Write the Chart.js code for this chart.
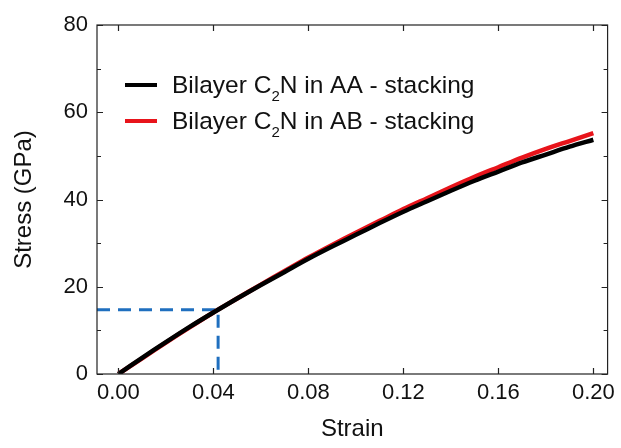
<!DOCTYPE html>
<html>
<head>
<meta charset="utf-8">
<script src="https://cdn.jsdelivr.net/npm/chart.js@4"></script>
<style>
  html, body { margin: 0; padding: 0; background: #fff; }
</style>
</head>
<body>
<canvas id="myChart" width="621" height="448"></canvas>
<script>
// strain values (x) shared by both curves
const strain = [0, 0.01, 0.02, 0.03, 0.04, 0.05, 0.06, 0.07, 0.08, 0.09, 0.10,
  0.11, 0.12, 0.13, 0.14, 0.15, 0.16, 0.17, 0.18, 0.19, 0.20];
const stressAA = [0, 3.7, 7.3, 10.8, 14.1, 17.3, 20.4, 23.4, 26.4, 29.2, 31.9,
  34.6, 37.2, 39.6, 42.0, 44.3, 46.4, 48.5, 50.3, 52.1, 53.7];
const stressAB = [0, 3.6, 7.2, 10.7, 14.1, 17.3, 20.5, 23.6, 26.7, 29.6, 32.4,
  35.1, 37.8, 40.3, 42.8, 45.2, 47.4, 49.6, 51.6, 53.4, 55.2];

// dashed guide (proportional limit)
const guideX = [-0.009, 0.042, 0.042];
const guideY = [14.7, 14.7, 0];

const xTicks = [0, 0.04, 0.08, 0.12, 0.16, 0.20];
const yTicks = [0, 20, 40, 60, 80];
const yMinor = [10, 30, 50, 70];

const seriesNames = ["AA", "AB"];
const seriesColors = ["#000000", "#e8141b"];

const FONT = "'Liberation Sans', Arial, sans-serif";

function toPoints(xs, ys) {
  return xs.map((x, i) => ({ x: x, y: ys[i] }));
}

const frame = {
  id: "frame",
  afterDraw(chart) {
    const ctx = chart.ctx;
    const a = chart.chartArea;
    const xs = chart.scales.x;
    const ys = chart.scales.y;
    ctx.save();
    ctx.strokeStyle = "#222";
    ctx.lineWidth = 1.2;
    ctx.strokeRect(a.left, a.top, a.right - a.left, a.bottom - a.top);
    ctx.beginPath();
    xTicks.forEach(v => {
      const px = Math.round(xs.getPixelForValue(v)) + 0.5;
      ctx.moveTo(px, a.bottom); ctx.lineTo(px, a.bottom - 6);
      ctx.moveTo(px, a.top); ctx.lineTo(px, a.top + 6);
    });
    yTicks.forEach(v => {
      const py = Math.round(ys.getPixelForValue(v)) + 0.5;
      ctx.moveTo(a.left, py); ctx.lineTo(a.left + 6, py);
      ctx.moveTo(a.right, py); ctx.lineTo(a.right - 6, py);
    });
    yMinor.forEach(v => {
      const py = Math.round(ys.getPixelForValue(v)) + 0.5;
      ctx.moveTo(a.left, py); ctx.lineTo(a.left + 4, py);
      ctx.moveTo(a.right, py); ctx.lineTo(a.right - 4, py);
    });
    ctx.stroke();

    // legend with subscript
    const rows = [93, 129];
    rows.forEach((y, i) => {
      ctx.strokeStyle = seriesColors[i];
      ctx.lineWidth = 4;
      ctx.beginPath();
      ctx.moveTo(125, y - 8); ctx.lineTo(157, y - 8);
      ctx.stroke();
      ctx.fillStyle = "#111";
      ctx.textBaseline = "alphabetic";
      ctx.textAlign = "left";
      let x = 172;
      ctx.font = "24.5px " + FONT;
      ctx.fillText("Bilayer C", x, y);
      x += ctx.measureText("Bilayer C").width;
      ctx.font = "15px " + FONT;
      ctx.fillText("2", x, y + 8);
      x += ctx.measureText("2").width;
      ctx.font = "24.5px " + FONT;
      ctx.fillText("N in " + seriesNames[i] + " - stacking", x, y);
    });
    ctx.restore();
  }
};

const chart = new Chart(document.getElementById("myChart"), {
  type: "line",
  data: {
    datasets: [
      {
        label: "Bilayer C₂N in AA - stacking",
        data: toPoints(strain, stressAA),
        borderColor: seriesColors[0],
        borderWidth: 4.5,
        pointRadius: 0,
        tension: 0.3,
      },
      {
        label: "Bilayer C₂N in AB - stacking",
        data: toPoints(strain, stressAB),
        borderColor: seriesColors[1],
        borderWidth: 4.5,
        pointRadius: 0,
        tension: 0.3,
      },
      {
        label: "guide",
        data: toPoints(guideX, guideY),
        borderColor: "#1f6fbf",
        borderWidth: 3,
        borderDash: [13, 8],
        pointRadius: 0,
        tension: 0,
      },
    ],
  },
  options: {
    responsive: false,
    animation: false,
    layout: { padding: { top: 25, right: 9, left: 0, bottom: 0 } },
    plugins: { legend: { display: false }, tooltip: { enabled: false } },
    scales: {
      x: {
        type: "linear",
        min: -0.009,
        max: 0.206,
        afterBuildTicks(scale) { scale.ticks = xTicks.map(v => ({ value: v })); },
        afterFit(scale) { scale.height = 74; },
        grid: { display: false, drawTicks: false },
        border: { display: false },
        ticks: {
          padding: 6,
          color: "#111",
          font: { family: FONT, size: 22 },
          callback: v => v.toFixed(2),
        },
        title: {
          display: true,
          text: "Strain",
          color: "#111",
          font: { family: FONT, size: 24 },
          padding: { top: 4, bottom: 4 },
        },
      },
      y: {
        min: 0,
        max: 80,
        afterBuildTicks(scale) { scale.ticks = yTicks.map(v => ({ value: v })); },
        afterFit(scale) { scale.width = 97; },
        grid: { display: false, drawTicks: false },
        border: { display: false },
        ticks: {
          padding: 9,
          color: "#111",
          font: { family: FONT, size: 22 },
        },
        title: {
          display: true,
          text: "Stress (GPa)",
          color: "#111",
          font: { family: FONT, size: 24 },
          padding: { top: 10, bottom: 10 },
        },
      },
    },
  },
  plugins: [frame],
});
</script>
</body>
</html>
